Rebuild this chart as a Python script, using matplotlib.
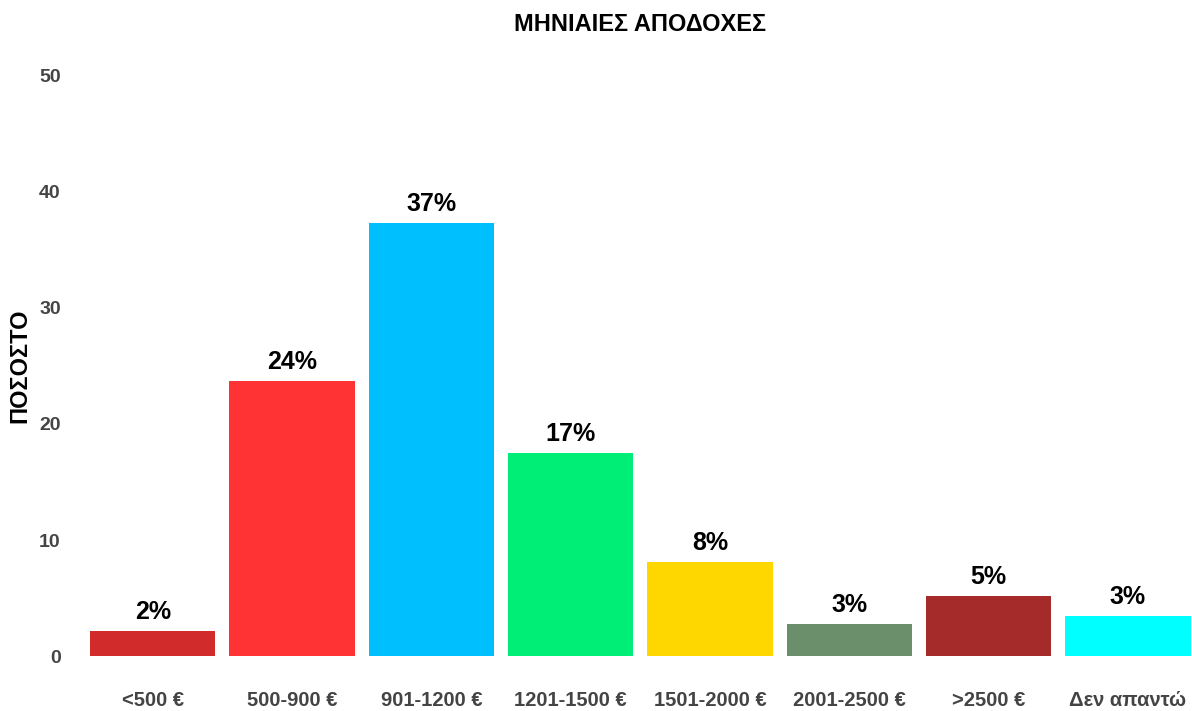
import matplotlib.pyplot as plt

plt.rcParams['font.family'] = ['Liberation Sans', 'DejaVu Sans']

# Data
categories = ["<500 €", "500-900 €", "901-1200 €", "1201-1500 €", "1501-2000 €",
              "2001-2500 €", ">2500 €", "Δεν απαντώ"]
values = [2.15, 23.7, 37.3, 17.5, 8.1, 2.75, 5.2, 3.45]
labels = ["2%", "24%", "37%", "17%", "8%", "3%", "5%", "3%"]
colors = ["#D22B2B", "#FF3333", "#00BFFF", "#00EE76", "#FFD700",
          "#6B8E6B", "#A52A2A", "#00FFFF"]

fig = plt.figure(figsize=(11.92, 7.11), dpi=100)
ax = fig.add_axes([0.0697, 0.077, 0.9303, 0.817])

x = range(len(categories))
bars = ax.bar(x, values, width=0.9, color=colors)

for b, lab in zip(bars, labels):
    ax.text(b.get_x() + b.get_width() / 2, b.get_height() + 0.6, lab,
            ha="center", va="bottom", fontsize=18, fontweight="bold", color="black")

ax.set_xlim(-0.5, 7.46)
ax.set_ylim(0, 50)
ax.set_yticks([0, 10, 20, 30, 40, 50])
ax.set_xticks(list(x))
ax.set_xticklabels(categories)
ax.tick_params(axis="x", length=0, pad=25, labelsize=14.5, labelcolor="#444444")
ax.tick_params(axis="y", length=0, pad=16, labelsize=14, labelcolor="#444444")
for t in ax.get_xticklabels() + ax.get_yticklabels():
    t.set_fontweight("bold")

for s in ax.spines.values():
    s.set_visible(False)

ax.set_ylabel("ΠΟΣΟΣΤΟ", fontsize=17, fontweight="bold", labelpad=6)
fig.text(0.537, 0.965, "ΜΗΝΙΑΙΕΣ ΑΠΟΔΟΧΕΣ", ha="center", va="center",
         fontsize=17, fontweight="bold")

fig.savefig("out.png", dpi=100)
